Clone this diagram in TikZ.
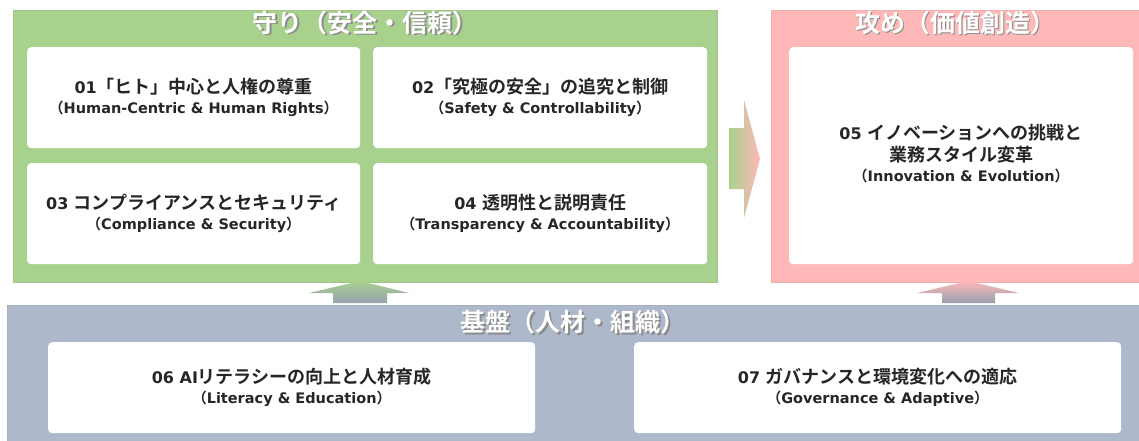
\documentclass[tikz,border=0pt]{standalone}
\usepackage{fontspec}
\setmainfont{DejaVu Sans}
\newfontfamily\jp{Noto Sans CJK JP}[BoldFont={* Bold}]
\definecolor{grn}{HTML}{A9D18E}
\definecolor{pnk}{HTML}{FFB8B8}
\definecolor{blu}{HTML}{ADB8CA}
\definecolor{txt}{HTML}{262626}
\tikzset{
  panel/.style={anchor=north west, inner sep=0pt, draw=#1!85!gray, line width=0.6pt},
  card/.style={anchor=north west, fill=white, rounded corners=4pt, inner sep=0pt},
  ttl/.style={text=white, font=\fontsize{25}{28}\selectfont\jp\bfseries},
  shd/.style={text=black!45, font=\fontsize{25}{28}\selectfont\jp\bfseries},
  cardtext/.style={text=txt, align=center, font=\fontsize{16}{20}\selectfont\bfseries},
}
\newcommand{\J}[1]{{\jp\fontsize{18}{20}\selectfont\bfseries #1}}
\newcommand{\sub}[1]{{\fontsize{14.5}{20}\selectfont\bfseries{\jp （}#1{\jp ）}}}
\begin{document}
\begin{tikzpicture}[x=1pt,y=-1pt]
\useasboundingbox (0,0) rectangle (1139,441);
\fill[white] (0,0) rectangle (1139,441);
% panels
\node[panel=grn, fill=grn, minimum width=704pt, minimum height=272pt] (gp) at (13,10) {};
\node[panel=pnk, fill=pnk, minimum width=370pt, minimum height=272pt] (pp) at (771,10) {};
\node[panel=blu, fill=blu, minimum width=1134pt, minimum height=140pt] (bp) at (7,305) {};
% titles
\node[shd] at (366.5,24.5) {守り（安全・信頼）};
\node[ttl] (gt) at (365,23) {守り（安全・信頼）};
\node[shd] at (956.5,24.5) {攻め（価値創造）};
\node[ttl] (pt) at (955,23) {攻め（価値創造）};
\node[shd] at (574.5,323.5) {基盤（人材・組織）};
\node[ttl] (bt) at (573,322) {基盤（人材・組織）};
% cards
\node[card, minimum width=333pt, minimum height=101pt] (c1) at (27,47) {};
\node[card, minimum width=334pt, minimum height=101pt] (c2) at (373,47) {};
\node[card, minimum width=333pt, minimum height=101pt] (c3) at (27,163) {};
\node[card, minimum width=334pt, minimum height=101pt] (c4) at (373,163) {};
\node[card, minimum width=344pt, minimum height=217pt] (c5) at (789,47) {};
\node[card, minimum width=487pt, minimum height=91pt] (c6) at (48,342) {};
\node[card, minimum width=487pt, minimum height=91pt] (c7) at (634,342) {};
% card texts
\node[cardtext] at (c1.center) {01\J{「ヒト」中心と人権の尊重}\\\sub{Human-Centric \& Human Rights}};
\node[cardtext] at (c2.center) {02\J{「究極の安全」の追究と制御}\\\sub{Safety \& Controllability}};
\node[cardtext] at (c3.center) {03 \J{コンプライアンスとセキュリティ}\\\sub{Compliance \& Security}};
\node[cardtext] at (c4.center) {04 \J{透明性と説明責任}\\\sub{Transparency \& Accountability}};
\node[cardtext] at ([yshift=2pt]c5.center) {05 \J{イノベーションへの挑戦と}\\[2pt]\J{業務スタイル変革}\\\sub{Innovation \& Evolution}};
\node[cardtext] at (c6.center) {06 AI\J{リテラシーの向上と人材育成}\\\sub{Literacy \& Education}};
\node[cardtext] at (c7.center) {07 \J{ガバナンスと環境変化への適応}\\\sub{Governance \& Adaptive}};
% right arrow (green to pink)
\shade[left color=grn, right color=pnk]
  (729,128) -- (744,128) -- (744,100) -- (760,159) -- (744,218) -- (744,189) -- (729,189) -- cycle;
% up arrows
\shade[top color=grn, bottom color=blu!85!black!95]
  (333,303) -- (333,293) -- (309,293) -- (360,281) -- (409,293) -- (387,293) -- (387,303) -- cycle;
\shade[top color=pnk, bottom color=blu!85!black!95]
  (942,303) -- (942,293) -- (917,293) -- (968,281) -- (1019,293) -- (995,293) -- (995,303) -- cycle;
\end{tikzpicture}
\end{document}
